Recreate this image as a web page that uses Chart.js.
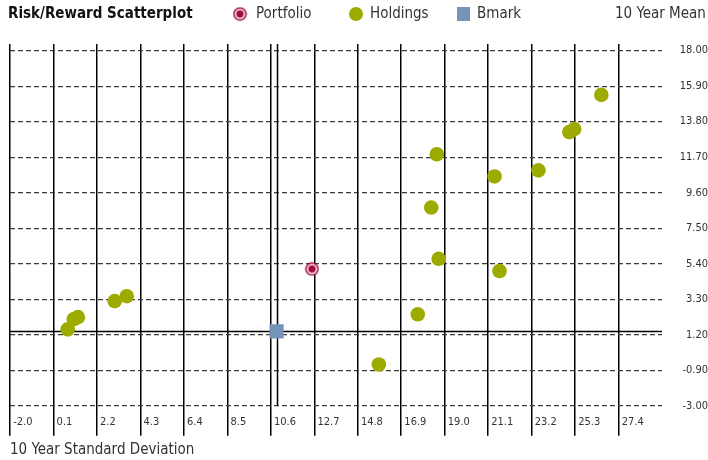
<!DOCTYPE html>
<html>
<head>
<meta charset="utf-8">
<script src="https://cdn.jsdelivr.net/npm/chart.js@4/dist/chart.umd.min.js"></script>
<style>
  html,body{margin:0;padding:0;background:#fff;}
  #wrap{position:relative;width:708px;height:460px;}
</style>
</head>
<body>
<div id="wrap"><canvas id="c" width="708" height="460"></canvas></div>
<script>
// ---- data ----
const chartTitle = 'Risk/Reward Scatterplot';
const seriesNames = ['Portfolio', 'Holdings', 'Bmark'];
const yAxisTitle = '10 Year Mean';
const xAxisTitle = '10 Year Standard Deviation';
const xTicks = [-2.0, 0.1, 2.2, 4.3, 6.4, 8.5, 10.6, 12.7, 14.8, 16.9, 19.0, 21.1, 23.2, 25.3, 27.4];
const yTicks = [-3.00, -0.90, 1.20, 3.30, 5.40, 7.50, 9.60, 11.70, 13.80, 15.90, 18.00];
const portfolioX = [12.59];
const portfolioY = [5.09];
const holdingsX = [0.79, 1.08, 1.28, 3.06, 3.64, 15.82, 17.70, 18.71, 18.35, 18.62, 21.41, 21.65, 23.53, 25.02, 25.26, 26.57];
const holdingsY = [1.52, 2.12, 2.24, 3.19, 3.48, -0.56, 2.41, 5.69, 8.72, 11.87, 10.56, 4.97, 10.92, 13.18, 13.36, 15.38];
const bmarkX = [10.88];
const bmarkY = [1.40];

const xMin = -2.0, xMax = 29.5, yMin = -3.0, yMax = 18.39;

const FONT = '"Liberation Sans Narrow", "DejaVu Sans Condensed", "Roboto", sans-serif';
const C_PORT = '#a10a3c', C_HOLD = '#9dab00', C_BM = '#7494b8';

function pts(xs, ys){ return xs.map((x,i)=>({x:x, y:ys[i]})); }

// Portfolio marker (ring + dot)
function makePortfolioIcon(){
  const cv = document.createElement('canvas');
  cv.width = 15; cv.height = 15;
  const g = cv.getContext('2d');
  g.fillStyle = C_PORT; g.beginPath(); g.arc(7.5,7.5,6.8,0,Math.PI*2); g.fill();
  g.fillStyle = '#fff'; g.beginPath(); g.arc(7.5,7.5,5.2,0,Math.PI*2); g.fill();
  g.fillStyle = C_PORT; g.beginPath(); g.arc(7.5,7.5,3.7,0,Math.PI*2); g.fill();
  return cv;
}
const portIcon = makePortfolioIcon();

const crosshair = {
  id: 'crosshair',
  beforeDatasetsDraw(chart){
    const {ctx, chartArea, scales} = chart;
    const px = scales.x.getPixelForValue(bmarkX[0]);
    const py = scales.y.getPixelForValue(bmarkY[0]);
    ctx.save();
    ctx.strokeStyle = '#000';
    ctx.lineWidth = 1.5;
    ctx.beginPath();
    ctx.moveTo(Math.round(px)+0.5, chartArea.top);
    ctx.lineTo(Math.round(px)+0.5, chartArea.bottom);
    ctx.moveTo(chartArea.left, Math.round(py)+0.5);
    ctx.lineTo(chartArea.right, Math.round(py)+0.5);
    ctx.stroke();
    ctx.restore();
  }
};

const header = {
  id: 'header',
  afterDraw(chart){
    const ctx = chart.ctx;
    const cy = 14;
    ctx.save();
    ctx.textBaseline = 'middle';
    ctx.textAlign = 'left';
    ctx.fillStyle = '#111';
    ctx.font = 'bold 15px ' + FONT;
    ctx.fillText(chartTitle, 8, cy);
    ctx.font = '15px ' + FONT;
    ctx.fillStyle = '#333';
    // Portfolio
    ctx.drawImage(portIcon, 240-7.5, cy-7.5);
    ctx.fillText(seriesNames[0], 256, cy);
    // Holdings
    ctx.fillStyle = C_HOLD;
    ctx.beginPath(); ctx.arc(356, cy, 7, 0, Math.PI*2); ctx.fill();
    ctx.fillStyle = '#333';
    ctx.fillText(seriesNames[1], 370, cy);
    // Bmark
    ctx.fillStyle = C_BM;
    ctx.fillRect(457, cy-7, 13, 14);
    ctx.fillStyle = '#333';
    ctx.fillText(seriesNames[2], 477, cy);
    // y axis title
    ctx.fillText(yAxisTitle, 615, cy);
    ctx.restore();
  }
};

new Chart(document.getElementById('c'), {
  type: 'scatter',
  data: {
    datasets: [
      { label: seriesNames[0], data: pts(portfolioX, portfolioY), pointStyle: portIcon, pointRadius: 7, pointHoverRadius: 7, order: 0 },
      { label: seriesNames[1], data: pts(holdingsX, holdingsY), pointStyle: 'circle', pointRadius: 7.3, pointHoverRadius: 7.3,
        backgroundColor: C_HOLD, borderColor: C_HOLD, borderWidth: 0, order: 1 },
      { label: seriesNames[2], data: pts(bmarkX, bmarkY), pointStyle: 'rect', pointRadius: 10, pointHoverRadius: 10,
        backgroundColor: C_BM, borderColor: C_BM, borderWidth: 0, order: 2 }
    ]
  },
  options: {
    responsive: false,
    animation: false,
    events: [],
    layout: { padding: { top: 44, left: 8, right: 0, bottom: 0 } },
    plugins: { legend: { display: false }, tooltip: { enabled: false }, title: { display: false } },
    scales: {
      x: {
        type: 'linear', min: xMin, max: xMax,
        afterBuildTicks: (s) => { s.ticks = xTicks.map(v => ({ value: v })); },
        afterFit: (s) => { s.paddingLeft = 0; s.paddingRight = 0; },
        grid: { color: '#000', lineWidth: 1.5, drawTicks: true, tickLength: 30 },
        border: { display: false },
        ticks: {
          align: 'start', autoSkip: false, maxRotation: 0, minRotation: 0,
          padding: -20, color: '#333',
          font: { family: FONT, size: 11 },
          callback: (v) => ' ' + Number(v).toFixed(1)
        },
        title: { display: true, text: xAxisTitle, align: 'start', color: '#333',
          font: { family: FONT, size: 15 }, padding: { top: 32, bottom: 1 } }
      },
      y: {
        type: 'linear', position: 'right', min: yMin, max: yMax,
        afterBuildTicks: (s) => { s.ticks = yTicks.map(v => ({ value: v })); },
        afterFit: (s) => { s.width = 46; },
        grid: { color: '#3a3a3a', lineWidth: 1.2, drawTicks: false, tickLength: 0 },
        border: { display: false, dash: [5,3] },
        ticks: {
          crossAlign: 'far', padding: 20, color: '#333',
          font: { family: FONT, size: 11 },
          callback: (v) => Number(v).toFixed(2)
        }
      }
    }
  },
  plugins: [crosshair, header]
});
</script>
</body>
</html>
